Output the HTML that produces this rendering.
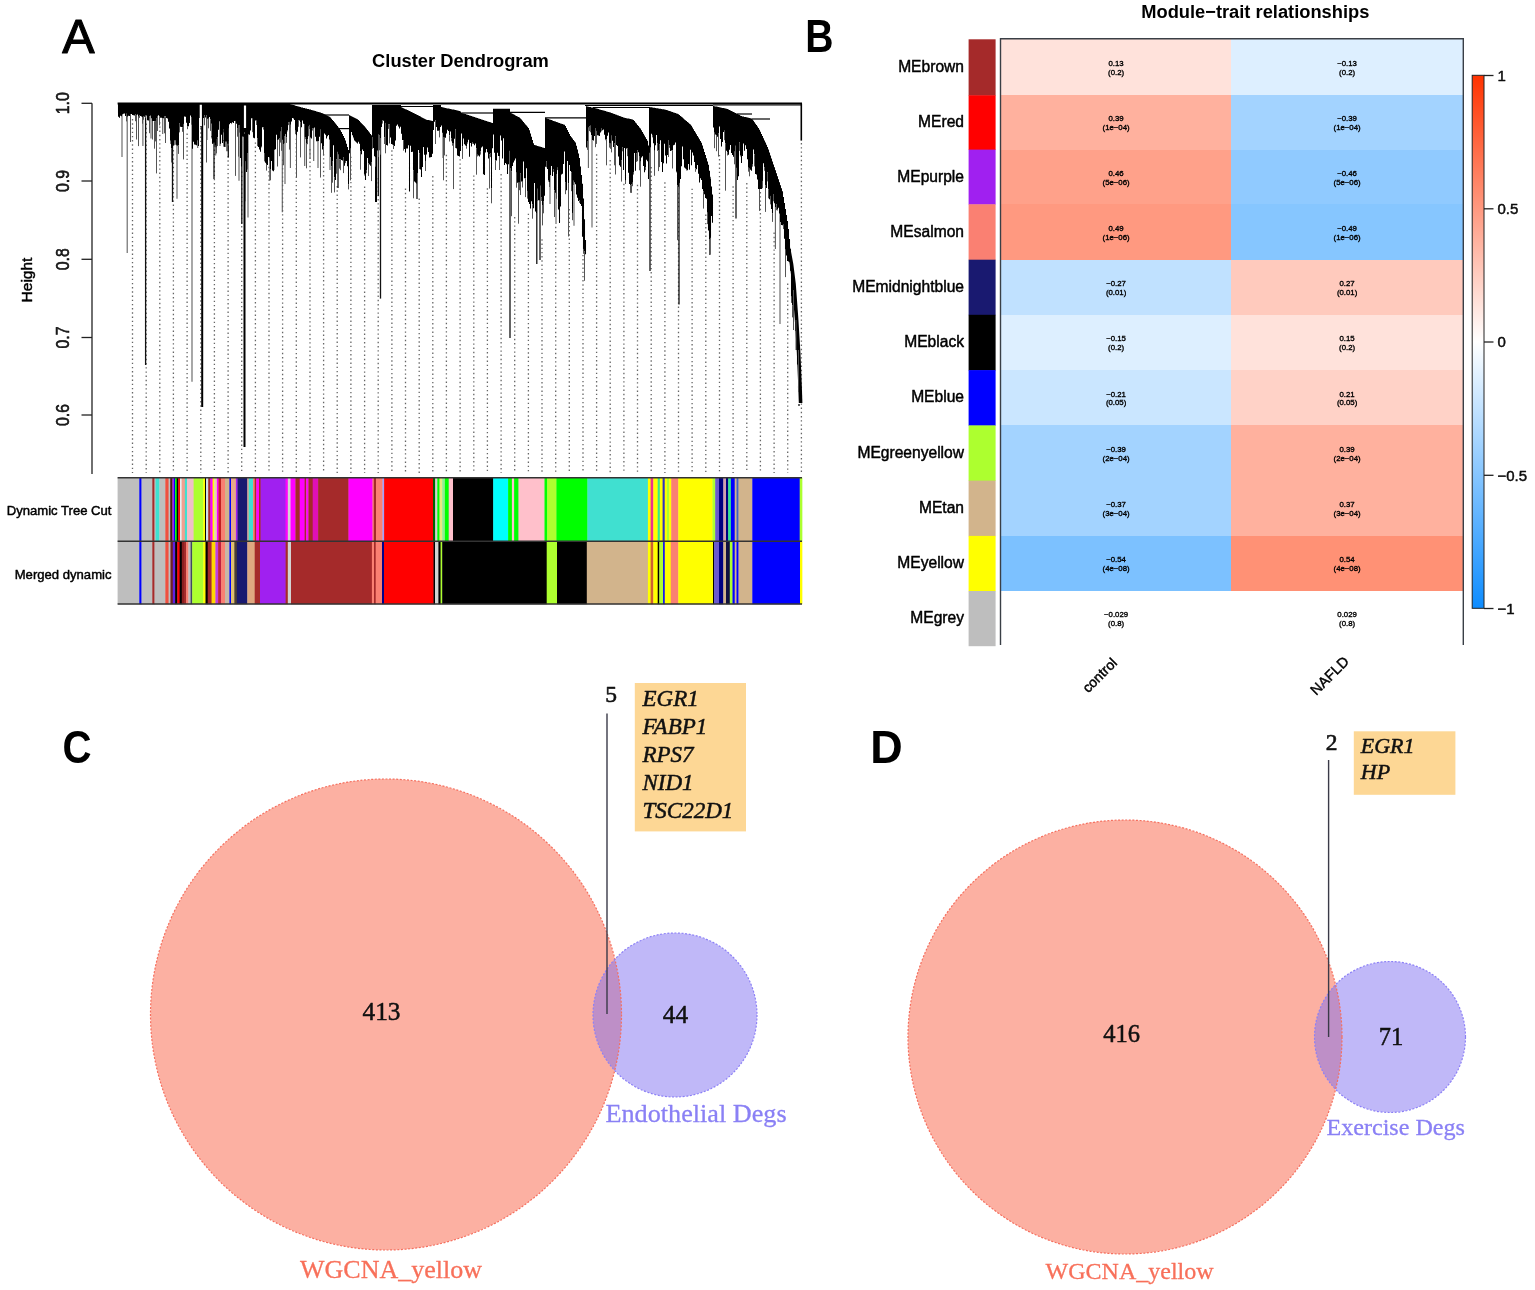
<!DOCTYPE html><html><head><meta charset="utf-8"><title>WGCNA figure</title><style>html,body{margin:0;padding:0;background:#fff;width:1535px;height:1290px;overflow:hidden}</style></head><body><svg width="1535" height="1290" viewBox="0 0 1535 1290" style="position:absolute;left:0;top:0">
<style>text{stroke-linejoin:round}.h{stroke:#000;stroke-width:0.45px}.h2{stroke-width:0.35px}</style>
<rect width="1535" height="1290" fill="#fff"/>
<text x="62.3" y="53.2" font-family="'Liberation Sans', sans-serif" font-size="48.5" fill="#000" stroke="#000" stroke-width="1.1">A</text>
<text transform="translate(805.2 51.6) scale(0.86 1)" font-family="'Liberation Sans', sans-serif" font-weight="700" font-size="45.5" fill="#000">B</text>
<text transform="translate(62.6 763.4) scale(0.86 1)" font-family="'Liberation Sans', sans-serif" font-weight="700" font-size="46.8" fill="#000">C</text>
<text transform="translate(870.3 763.4) scale(0.96 1)" font-family="'Liberation Sans', sans-serif" font-weight="700" font-size="46.8" fill="#000">D</text>
<text x="460.5" y="67" text-anchor="middle" font-family="'Liberation Sans', sans-serif" font-weight="700" font-size="18.3" fill="#000">Cluster Dendrogram</text>
<g stroke="#222" stroke-width="1.3" fill="none">
<line x1="92" y1="103.3" x2="92" y2="474"/>
<line x1="81.5" y1="103.3" x2="92" y2="103.3"/>
<line x1="81.5" y1="181" x2="92" y2="181"/>
<line x1="81.5" y1="259.3" x2="92" y2="259.3"/>
<line x1="81.5" y1="337.5" x2="92" y2="337.5"/>
<line x1="81.5" y1="415" x2="92" y2="415"/>
</g>
<text transform="translate(69.2 103.3) rotate(-90) scale(1.02 1.2)" text-anchor="middle" font-family="'Liberation Sans', sans-serif" font-size="15.5" class="h" fill="#222">1.0</text>
<text transform="translate(69.2 181) rotate(-90) scale(1.02 1.2)" text-anchor="middle" font-family="'Liberation Sans', sans-serif" font-size="15.5" class="h" fill="#222">0.9</text>
<text transform="translate(69.2 259.3) rotate(-90) scale(1.02 1.2)" text-anchor="middle" font-family="'Liberation Sans', sans-serif" font-size="15.5" class="h" fill="#222">0.8</text>
<text transform="translate(69.2 337.5) rotate(-90) scale(1.02 1.2)" text-anchor="middle" font-family="'Liberation Sans', sans-serif" font-size="15.5" class="h" fill="#222">0.7</text>
<text transform="translate(69.2 415) rotate(-90) scale(1.02 1.2)" text-anchor="middle" font-family="'Liberation Sans', sans-serif" font-size="15.5" class="h" fill="#222">0.6</text>
<text transform="translate(31.5 280) rotate(-90)" text-anchor="middle" font-family="'Liberation Sans', sans-serif" font-size="15.5" class="h" fill="#000">Height</text>
<g id="dendro">
<line x1="132.5" y1="119.1" x2="132.5" y2="473" stroke="#666" stroke-width="1.3" stroke-dasharray="1.4 2.8"/>
<line x1="146.2" y1="123.6" x2="146.2" y2="473" stroke="#666" stroke-width="1.3" stroke-dasharray="1.4 2.8"/>
<line x1="159.8" y1="122.2" x2="159.8" y2="473" stroke="#666" stroke-width="1.3" stroke-dasharray="1.4 2.8"/>
<line x1="173.4" y1="150.0" x2="173.4" y2="473" stroke="#666" stroke-width="1.3" stroke-dasharray="1.4 2.8"/>
<line x1="187.1" y1="133.5" x2="187.1" y2="473" stroke="#666" stroke-width="1.3" stroke-dasharray="1.4 2.8"/>
<line x1="200.8" y1="128.1" x2="200.8" y2="473" stroke="#666" stroke-width="1.3" stroke-dasharray="1.4 2.8"/>
<line x1="214.4" y1="145.3" x2="214.4" y2="473" stroke="#666" stroke-width="1.3" stroke-dasharray="1.4 2.8"/>
<line x1="228.1" y1="156.1" x2="228.1" y2="473" stroke="#666" stroke-width="1.3" stroke-dasharray="1.4 2.8"/>
<line x1="241.7" y1="171.5" x2="241.7" y2="473" stroke="#666" stroke-width="1.3" stroke-dasharray="1.4 2.8"/>
<line x1="255.4" y1="142.4" x2="255.4" y2="473" stroke="#666" stroke-width="1.3" stroke-dasharray="1.4 2.8"/>
<line x1="269.0" y1="166.8" x2="269.0" y2="473" stroke="#666" stroke-width="1.3" stroke-dasharray="1.4 2.8"/>
<line x1="282.6" y1="159.6" x2="282.6" y2="473" stroke="#666" stroke-width="1.3" stroke-dasharray="1.4 2.8"/>
<line x1="296.3" y1="138.7" x2="296.3" y2="473" stroke="#666" stroke-width="1.3" stroke-dasharray="1.4 2.8"/>
<line x1="310.0" y1="149.0" x2="310.0" y2="473" stroke="#666" stroke-width="1.3" stroke-dasharray="1.4 2.8"/>
<line x1="323.6" y1="154.0" x2="323.6" y2="473" stroke="#666" stroke-width="1.3" stroke-dasharray="1.4 2.8"/>
<line x1="337.2" y1="186.1" x2="337.2" y2="473" stroke="#666" stroke-width="1.3" stroke-dasharray="1.4 2.8"/>
<line x1="350.9" y1="156.7" x2="350.9" y2="473" stroke="#666" stroke-width="1.3" stroke-dasharray="1.4 2.8"/>
<line x1="364.6" y1="186.6" x2="364.6" y2="473" stroke="#666" stroke-width="1.3" stroke-dasharray="1.4 2.8"/>
<line x1="378.2" y1="178.0" x2="378.2" y2="473" stroke="#666" stroke-width="1.3" stroke-dasharray="1.4 2.8"/>
<line x1="391.9" y1="150.3" x2="391.9" y2="473" stroke="#666" stroke-width="1.3" stroke-dasharray="1.4 2.8"/>
<line x1="405.5" y1="188.6" x2="405.5" y2="473" stroke="#666" stroke-width="1.3" stroke-dasharray="1.4 2.8"/>
<line x1="419.2" y1="198.5" x2="419.2" y2="473" stroke="#666" stroke-width="1.3" stroke-dasharray="1.4 2.8"/>
<line x1="432.8" y1="176.1" x2="432.8" y2="473" stroke="#666" stroke-width="1.3" stroke-dasharray="1.4 2.8"/>
<line x1="446.4" y1="154.8" x2="446.4" y2="473" stroke="#666" stroke-width="1.3" stroke-dasharray="1.4 2.8"/>
<line x1="460.1" y1="159.2" x2="460.1" y2="473" stroke="#666" stroke-width="1.3" stroke-dasharray="1.4 2.8"/>
<line x1="473.8" y1="175.4" x2="473.8" y2="473" stroke="#666" stroke-width="1.3" stroke-dasharray="1.4 2.8"/>
<line x1="487.4" y1="188.3" x2="487.4" y2="473" stroke="#666" stroke-width="1.3" stroke-dasharray="1.4 2.8"/>
<line x1="501.1" y1="174.0" x2="501.1" y2="473" stroke="#666" stroke-width="1.3" stroke-dasharray="1.4 2.8"/>
<line x1="514.7" y1="217.0" x2="514.7" y2="473" stroke="#666" stroke-width="1.3" stroke-dasharray="1.4 2.8"/>
<line x1="528.4" y1="213.7" x2="528.4" y2="473" stroke="#666" stroke-width="1.3" stroke-dasharray="1.4 2.8"/>
<line x1="542.0" y1="239.3" x2="542.0" y2="473" stroke="#666" stroke-width="1.3" stroke-dasharray="1.4 2.8"/>
<line x1="555.7" y1="226.8" x2="555.7" y2="473" stroke="#666" stroke-width="1.3" stroke-dasharray="1.4 2.8"/>
<line x1="569.3" y1="209.1" x2="569.3" y2="473" stroke="#666" stroke-width="1.3" stroke-dasharray="1.4 2.8"/>
<line x1="583.0" y1="254.9" x2="583.0" y2="473" stroke="#666" stroke-width="1.3" stroke-dasharray="1.4 2.8"/>
<line x1="596.6" y1="154.3" x2="596.6" y2="473" stroke="#666" stroke-width="1.3" stroke-dasharray="1.4 2.8"/>
<line x1="610.2" y1="160.0" x2="610.2" y2="473" stroke="#666" stroke-width="1.3" stroke-dasharray="1.4 2.8"/>
<line x1="623.9" y1="183.8" x2="623.9" y2="473" stroke="#666" stroke-width="1.3" stroke-dasharray="1.4 2.8"/>
<line x1="637.5" y1="184.8" x2="637.5" y2="473" stroke="#666" stroke-width="1.3" stroke-dasharray="1.4 2.8"/>
<line x1="651.2" y1="167.1" x2="651.2" y2="473" stroke="#666" stroke-width="1.3" stroke-dasharray="1.4 2.8"/>
<line x1="664.9" y1="182.3" x2="664.9" y2="473" stroke="#666" stroke-width="1.3" stroke-dasharray="1.4 2.8"/>
<line x1="678.5" y1="193.2" x2="678.5" y2="473" stroke="#666" stroke-width="1.3" stroke-dasharray="1.4 2.8"/>
<line x1="692.1" y1="188.7" x2="692.1" y2="473" stroke="#666" stroke-width="1.3" stroke-dasharray="1.4 2.8"/>
<line x1="705.8" y1="214.5" x2="705.8" y2="473" stroke="#666" stroke-width="1.3" stroke-dasharray="1.4 2.8"/>
<line x1="719.5" y1="154.9" x2="719.5" y2="473" stroke="#666" stroke-width="1.3" stroke-dasharray="1.4 2.8"/>
<line x1="733.1" y1="186.3" x2="733.1" y2="473" stroke="#666" stroke-width="1.3" stroke-dasharray="1.4 2.8"/>
<line x1="746.8" y1="183.1" x2="746.8" y2="473" stroke="#666" stroke-width="1.3" stroke-dasharray="1.4 2.8"/>
<line x1="760.4" y1="192.0" x2="760.4" y2="473" stroke="#666" stroke-width="1.3" stroke-dasharray="1.4 2.8"/>
<line x1="774.1" y1="232.6" x2="774.1" y2="473" stroke="#666" stroke-width="1.3" stroke-dasharray="1.4 2.8"/>
<line x1="787.7" y1="283.6" x2="787.7" y2="473" stroke="#666" stroke-width="1.3" stroke-dasharray="1.4 2.8"/>
<line x1="801.4" y1="143.0" x2="801.4" y2="473" stroke="#666" stroke-width="1.3" stroke-dasharray="1.4 2.8"/>
<line x1="122" y1="105.3" x2="122" y2="157" stroke="#606060" stroke-width="1.1"/>
<line x1="127.2" y1="105.3" x2="127.2" y2="253" stroke="#606060" stroke-width="1.1"/>
<line x1="142.9" y1="105.4" x2="142.9" y2="146" stroke="#606060" stroke-width="1.1"/>
<line x1="145.6" y1="105.4" x2="145.6" y2="365" stroke="#111" stroke-width="1.3"/>
<line x1="151" y1="105.4" x2="151" y2="138.5" stroke="#606060" stroke-width="1.1"/>
<line x1="162.7" y1="105.5" x2="162.7" y2="134" stroke="#606060" stroke-width="1.1"/>
<line x1="172.5" y1="105.5" x2="172.5" y2="202" stroke="#111" stroke-width="1.3"/>
<line x1="177" y1="105.5" x2="177" y2="198.7" stroke="#606060" stroke-width="1.1"/>
<line x1="192" y1="105.6" x2="192" y2="381.7" stroke="#606060" stroke-width="1.1"/>
<line x1="197.7" y1="105.6" x2="197.7" y2="148" stroke="#606060" stroke-width="1.1"/>
<line x1="202.2" y1="105.6" x2="202.2" y2="407" stroke="#000" stroke-width="2.0"/>
<line x1="207" y1="105.7" x2="207" y2="140" stroke="#606060" stroke-width="1.1"/>
<line x1="214" y1="105.7" x2="214" y2="179" stroke="#111" stroke-width="1.3"/>
<line x1="215.7" y1="105.7" x2="215.7" y2="155.6" stroke="#606060" stroke-width="1.1"/>
<line x1="220" y1="105.7" x2="220" y2="146" stroke="#606060" stroke-width="1.1"/>
<line x1="228.3" y1="105.7" x2="228.3" y2="157.4" stroke="#111" stroke-width="1.3"/>
<line x1="239" y1="105.8" x2="239" y2="180.7" stroke="#606060" stroke-width="1.1"/>
<line x1="241.8" y1="105.8" x2="241.8" y2="224" stroke="#111" stroke-width="1.3"/>
<line x1="244.5" y1="105.8" x2="244.5" y2="447" stroke="#000" stroke-width="2.0"/>
<line x1="248" y1="105.8" x2="248" y2="217.6" stroke="#606060" stroke-width="1.1"/>
<line x1="269.7" y1="105.9" x2="269.7" y2="180.7" stroke="#606060" stroke-width="1.1"/>
<line x1="274" y1="105.9" x2="274" y2="170" stroke="#606060" stroke-width="1.1"/>
<line x1="282.3" y1="106.0" x2="282.3" y2="212.2" stroke="#606060" stroke-width="1.1"/>
<line x1="285" y1="106.0" x2="285" y2="184" stroke="#606060" stroke-width="1.1"/>
<line x1="290.4" y1="106.1" x2="290.4" y2="168" stroke="#606060" stroke-width="1.1"/>
<line x1="304.7" y1="110.2" x2="304.7" y2="166" stroke="#606060" stroke-width="1.1"/>
<line x1="310" y1="111.5" x2="310" y2="159" stroke="#606060" stroke-width="1.1"/>
<line x1="313.7" y1="112.6" x2="313.7" y2="161" stroke="#606060" stroke-width="1.1"/>
<line x1="318" y1="113.8" x2="318" y2="168" stroke="#606060" stroke-width="1.1"/>
<line x1="330" y1="119.0" x2="330" y2="170" stroke="#606060" stroke-width="1.1"/>
<line x1="338" y1="128.8" x2="338" y2="188" stroke="#111" stroke-width="1.3"/>
<line x1="376" y1="107.0" x2="376" y2="202" stroke="#000" stroke-width="2.0"/>
<line x1="378.3" y1="107.0" x2="378.3" y2="196" stroke="#111" stroke-width="1.3"/>
<line x1="380.5" y1="107.0" x2="380.5" y2="298.6" stroke="#111" stroke-width="1.3"/>
<line x1="417" y1="116.8" x2="417" y2="199" stroke="#111" stroke-width="1.3"/>
<line x1="443" y1="109.4" x2="443" y2="158" stroke="#606060" stroke-width="1.1"/>
<line x1="510" y1="114.4" x2="510" y2="338" stroke="#111" stroke-width="1.3"/>
<line x1="536.8" y1="147.7" x2="536.8" y2="264" stroke="#111" stroke-width="1.3"/>
<line x1="540" y1="148.6" x2="540" y2="260" stroke="#111" stroke-width="1.3"/>
<line x1="550" y1="121.6" x2="550" y2="204" stroke="#606060" stroke-width="1.1"/>
<line x1="556" y1="123.8" x2="556" y2="224" stroke="#606060" stroke-width="1.1"/>
<line x1="574" y1="142.6" x2="574" y2="225.7" stroke="#606060" stroke-width="1.1"/>
<line x1="592" y1="109.5" x2="592" y2="227.5" stroke="#606060" stroke-width="1.1"/>
<line x1="588.4" y1="108.6" x2="588.4" y2="168" stroke="#606060" stroke-width="1.1"/>
<line x1="650" y1="109.1" x2="650" y2="271" stroke="#111" stroke-width="1.3"/>
<line x1="679" y1="116.6" x2="679" y2="304.6" stroke="#111" stroke-width="1.3"/>
<line x1="710" y1="176.7" x2="710" y2="254.7" stroke="#111" stroke-width="1.3"/>
<line x1="736" y1="115.2" x2="736" y2="218.5" stroke="#111" stroke-width="1.3"/>
<line x1="775.4" y1="172.0" x2="775.4" y2="249" stroke="#606060" stroke-width="1.1"/>
<line x1="780" y1="185.7" x2="780" y2="324" stroke="#606060" stroke-width="1.1"/>
<line x1="799" y1="406.0" x2="799" y2="404" stroke="#111" stroke-width="1.3"/>
<path d="M118.5 103.3V116.8M119.5 103.3V117.8M120.5 103.3V115.7M121.5 103.3V116.2M122.5 103.3V114.3M123.5 103.3V113.8M124.5 103.3V113.5M125.5 103.3V116.0M126.5 103.3V113.8M127.5 103.3V116.4M128.5 103.3V115.7M129.5 103.3V115.9M130.5 103.4V114.4M131.5 103.4V114.0M132.5 103.4V115.1M133.5 103.4V115.2M134.5 103.4V115.5M135.5 103.4V114.4M136.5 103.4V114.9M137.5 103.4V114.5M138.5 103.4V116.7M139.5 103.4V115.4M140.5 103.4V116.1M141.5 103.4V116.4M142.5 103.4V117.6M143.5 103.4V116.4M144.5 103.4V116.7M145.5 103.4V115.1M146.5 103.4V115.6M147.5 103.4V120.2M148.5 103.4V120.5M149.5 103.4V116.5M150.5 103.4V115.4M151.5 103.4V118.2M152.5 103.4V121.0M153.5 103.4V121.1M154.5 103.4V121.3M155.5 103.5V120.9M156.5 103.5V118.4M157.5 103.5V115.9M158.5 103.5V115.2M159.5 103.5V116.4M160.5 103.5V117.7M161.5 103.5V117.8M162.5 103.5V118.0M163.5 103.5V118.2M164.5 103.5V116.1M165.5 103.5V116.3M166.5 103.5V117.9M167.5 103.5V118.4M168.5 103.5V121.8M169.5 103.5V128.6M170.5 103.5V140.4M171.5 103.5V148.1M172.5 103.5V148.1M173.5 103.5V122.1M174.5 103.5V129.3M175.5 103.5V125.5M176.5 103.5V125.2M177.5 103.5V145.5M178.5 103.5V145.5M179.5 103.6V123.1M180.5 103.6V126.8M181.5 103.6V127.0M182.5 103.6V127.3M183.5 103.6V123.9M184.5 103.6V116.4M185.5 103.6V116.8M186.5 103.6V122.7M187.5 103.6V126.2M188.5 103.6V126.3M189.5 103.6V122.9M190.5 103.6V115.4M191.5 103.6V117.4M192.5 103.6V126.1M193.5 103.6V134.9M194.5 103.6V125.0M195.5 103.6V122.5M196.5 103.6V125.4M197.5 103.6V128.5M198.5 103.6V132.9M199.5 103.6V118.0M200.5 103.6V115.3M201.5 103.6V115.5M202.5 103.6V116.8M203.5 103.6V117.9M204.5 103.7V115.5M205.5 103.7V117.4M206.5 103.7V115.3M207.5 103.7V118.7M208.5 103.7V118.8M209.5 103.7V117.0M210.5 103.7V119.1M211.5 103.7V123.5M212.5 103.7V143.8M213.5 103.7V123.3M214.5 103.7V122.8M215.5 103.7V134.1M216.5 103.7V139.0M217.5 103.7V137.3M218.5 103.7V129.8M219.5 103.7V121.2M220.5 103.7V125.3M221.5 103.7V126.3M222.5 103.7V127.3M223.5 103.7V129.3M224.5 103.7V127.9M225.5 103.7V127.0M226.5 103.7V126.7M227.5 103.7V139.8M228.5 103.8V128.3M229.5 103.8V124.3M230.5 103.8V123.1M231.5 103.8V123.3M232.5 103.8V122.2M233.5 103.8V123.1M234.5 103.8V120.9M235.5 103.8V120.9M236.5 103.8V123.8M237.5 103.8V128.4M238.5 103.8V125.6M239.5 103.8V124.9M240.5 103.8V158.1M241.5 103.8V166.6M242.5 103.8V136.4M243.5 103.8V136.8M244.5 103.8V132.2M245.5 103.8V161.4M246.5 103.8V171.9M247.5 103.8V153.1M248.5 103.8V134.3M249.5 103.8V134.8M250.5 103.8V130.6M251.5 103.8V118.3M252.5 103.8V118.7M253.5 103.9V137.8M254.5 103.9V138.3M255.5 103.9V120.6M256.5 103.9V120.7M257.5 103.9V138.4M258.5 103.9V146.9M259.5 103.9V149.4M260.5 103.9V151.8M261.5 103.9V146.7M262.5 103.9V127.2M263.5 103.9V127.2M264.5 103.9V153.0M265.5 103.9V162.8M266.5 103.9V163.9M267.5 103.9V164.9M268.5 103.9V157.1M269.5 103.9V157.7M270.5 103.9V169.0M271.5 103.9V160.9M272.5 103.9V170.6M273.5 103.9V171.2M274.5 103.9V149.8M275.5 103.9V149.3M276.5 103.9V134.8M277.5 103.9V139.9M278.5 104.0V139.5M279.5 104.0V138.2M280.5 104.0V131.8M281.5 104.0V127.6M282.5 104.0V139.8M283.5 104.0V144.0M284.5 104.0V136.2M285.5 104.0V133.9M286.5 104.0V137.1M287.5 104.0V130.3M288.5 104.0V122.1M289.5 104.0V121.9M290.5 104.2V124.7M291.5 104.5V121.4M292.5 104.8V118.1M293.5 105.0V118.5M294.5 105.3V120.0M295.5 105.7V130.7M296.5 106.0V135.7M297.5 106.2V131.8M298.5 106.5V120.1M299.5 106.8V120.5M300.5 107.1V122.5M301.5 107.4V127.3M302.5 107.6V120.5M303.5 107.9V123.7M304.5 108.1V124.1M305.5 108.4V137.5M306.5 108.6V143.7M307.5 108.9V139.4M308.5 109.1V126.8M309.5 109.4V124.9M310.5 109.6V137.6M311.5 109.9V138.4M312.5 110.2V128.4M313.5 110.5V128.2M314.5 110.8V127.4M315.5 111.1V136.8M316.5 111.4V141.3M317.5 111.7V141.2M318.5 112.0V141.1M319.5 112.3V136.7M320.5 112.6V129.7M321.5 112.9V143.2M322.5 113.2V149.6M323.5 113.8V146.2M324.5 114.2V133.6M325.5 114.8V134.8M326.5 115.2V138.5M327.5 115.8V136.3M328.5 116.2V134.9M329.5 116.8V139.5M330.5 117.6V156.9M331.5 118.8V166.2M332.5 119.9V161.4M333.5 121.1V145.3M334.5 122.2V177.3M335.5 123.4V179.9M336.5 124.7V159.1M337.5 126.1V151.8M338.5 127.5V154.3M339.5 128.9V159.3M340.5 130.3V159.6M341.5 132.0V160.1M342.5 134.0V160.6M343.5 136.0V157.4M344.5 138.0V165.8M345.5 140.6V160.9M346.5 143.7V161.1M347.5 146.9V166.3M348.5 150.0V184.5M349.5 115.3V153.2M350.5 115.8V148.8M351.5 116.3V132.0M352.5 116.8V135.2M353.5 117.3V137.1M354.5 117.8V140.5M355.5 118.3V141.6M356.5 118.8V142.6M357.5 119.3V143.6M358.5 120.1V141.8M359.5 121.1V143.8M360.5 122.2V151.2M361.5 123.2V154.3M362.5 124.2V149.5M363.5 125.3V151.1M364.5 126.3V173.9M365.5 127.4V180.1M366.5 128.7V170.6M367.5 130.0V158.0M368.5 131.3V163.1M369.5 132.6V164.4M370.5 133.9V165.8M371.5 135.2V162.4M372.5 105.0V137.0M373.5 105.0V148.0M374.5 105.0V156.3M375.5 105.0V157.1M376.5 105.0V157.9M377.5 105.0V150.6M378.5 105.0V134.2M379.5 105.0V135.5M380.5 105.0V138.0M381.5 105.0V126.9M382.5 105.0V120.1M383.5 105.0V120.7M384.5 105.0V137.3M385.5 105.0V122.9M386.5 105.0V144.9M387.5 105.0V145.6M388.5 105.0V124.5M389.5 105.0V124.1M390.5 105.0V137.5M391.5 105.0V143.9M392.5 105.0V144.6M393.5 105.0V145.3M394.5 105.0V146.0M395.5 105.0V140.4M396.5 105.0V125.8M397.5 105.0V124.4M398.5 105.0V126.5M399.5 105.0V128.5M400.5 105.0V126.7M401.5 107.2V133.7M402.5 107.7V139.9M403.5 108.2V140.5M404.5 108.7V149.1M405.5 109.2V152.5M406.5 109.6V148.5M407.5 110.1V148.5M408.5 110.6V145.3M409.5 111.1V191.5M410.5 111.6V145.8M411.5 112.0V152.1M412.5 112.5V151.7M413.5 113.0V170.2M414.5 113.5V181.4M415.5 114.0V182.5M416.5 114.5V183.6M417.5 115.0V173.1M418.5 115.6V150.1M419.5 116.1V153.3M420.5 116.6V169.4M421.5 117.2V177.1M422.5 117.7V166.9M423.5 118.3V147.0M424.5 118.8V154.7M425.5 119.3V160.9M426.5 119.7V154.6M427.5 119.9V147.4M428.5 120.1V152.0M429.5 120.3V157.4M430.5 120.5V157.2M431.5 120.7V157.1M432.5 120.9V153.8M433.5 105.0V130.0M434.5 105.0V121.8M435.5 105.0V120.6M436.5 105.0V126.9M437.5 105.0V130.8M438.5 105.0V130.8M439.5 105.0V130.8M440.5 105.0V126.9M441.5 107.1V125.6M442.5 107.3V132.8M443.5 107.5V137.5M444.5 107.7V137.7M445.5 107.9V137.8M446.5 108.2V133.5M447.5 108.4V129.8M448.5 108.6V131.1M449.5 108.8V135.3M450.5 109.0V131.5M451.5 109.2V138.2M452.5 109.4V143.5M453.5 109.6V143.7M454.5 109.8V138.7M455.5 110.1V129.5M456.5 110.3V148.1M457.5 110.5V155.4M458.5 110.7V156.0M459.5 110.9V156.6M460.5 111.5V150.9M461.5 112.5V133.4M462.5 113.2V146.5M463.5 113.5V138.6M464.5 113.8V144.3M465.5 114.1V145.5M466.5 114.5V146.4M467.5 114.8V142.2M468.5 115.1V139.8M469.5 115.4V156.8M470.5 115.8V143.0M471.5 116.1V146.6M472.5 116.4V142.6M473.5 116.8V143.7M474.5 117.1V145.2M475.5 117.4V143.5M476.5 117.7V148.6M477.5 118.1V154.8M478.5 118.4V155.6M479.5 118.7V156.4M480.5 119.1V151.4M481.5 119.4V147.6M482.5 119.7V146.6M483.5 120.0V174.2M484.5 120.4V175.1M485.5 120.7V152.5M486.5 121.0V149.1M487.5 121.4V152.3M488.5 121.7V158.4M489.5 122.0V154.6M490.5 122.3V153.5M491.5 122.7V188.5M492.5 123.0V148.2M493.5 108.8V134.6M494.5 108.8V152.7M495.5 108.8V160.5M496.5 108.8V160.5M497.5 108.8V152.7M498.5 108.8V156.0M499.5 108.8V156.0M500.5 108.8V135.4M501.5 108.8V140.6M502.5 108.8V158.5M503.5 108.8V138.2M504.5 108.8V165.1M505.5 108.8V162.9M506.5 108.8V164.3M507.5 108.8V174.1M508.5 108.8V164.3M509.5 108.8V150.7M510.5 112.7V167.9M511.5 113.2V171.6M512.5 113.8V166.1M513.5 114.3V162.6M514.5 114.8V160.6M515.5 115.4V158.5M516.5 115.9V172.7M517.5 116.5V182.8M518.5 117.0V182.8M519.5 117.5V182.8M520.5 118.4V173.2M521.5 119.6V181.5M522.5 120.8V181.7M523.5 122.0V161.6M524.5 123.2V178.2M525.5 124.4V178.5M526.5 125.6V168.3M527.5 126.8V190.9M528.5 128.0V202.1M529.5 130.2V204.1M530.5 133.5V208.4M531.5 136.7V201.3M532.5 139.9V204.2M533.5 143.2V208.3M534.5 145.0V182.9M535.5 145.3V211.4M536.5 145.6V213.1M537.5 145.9V188.8M538.5 146.2V200.2M539.5 146.5V200.3M540.5 146.8V185.5M541.5 147.1V197.5M542.5 147.4V205.0M543.5 147.7V201.4M544.5 148.0V195.8M545.5 118.0V166.7M546.5 118.3V161.1M547.5 118.7V169.1M548.5 119.1V180.2M549.5 119.4V182.4M550.5 119.8V175.0M551.5 120.1V165.9M552.5 120.5V176.1M553.5 120.9V169.6M554.5 121.2V190.3M555.5 121.6V192.7M556.5 121.9V174.0M557.5 122.3V167.7M558.5 122.7V209.4M559.5 123.0V223.0M560.5 123.4V206.6M561.5 123.7V174.5M562.5 124.1V173.8M563.5 124.5V164.0M564.5 124.8V151.5M565.5 126.0V182.4M566.5 128.0V190.3M567.5 130.0V161.1M568.5 132.0V183.1M569.5 134.0V165.0M570.5 135.9V170.9M571.5 137.3V172.5M572.5 138.6V212.9M573.5 139.9V180.7M574.5 141.3V182.2M575.5 142.6V184.3M576.5 145.7V194.6M577.5 149.6V197.8M578.5 153.5V201.1M579.5 157.9V200.3M580.5 166.5V204.1M581.5 175.1V206.1M582.5 183.7V236.7M583.5 198.4V248.9M584.5 219.2V251.6M585.5 240.0V254.2M586.5 106.2V147.4M587.5 106.4V141.0M588.5 106.7V127.2M589.5 106.9V126.4M590.5 107.1V125.8M591.5 107.4V135.0M592.5 107.6V140.0M593.5 107.9V140.4M594.5 108.1V135.9M595.5 108.3V128.0M596.5 108.6V130.9M597.5 108.8V135.2M598.5 109.1V135.6M599.5 109.4V136.0M600.5 109.7V132.4M601.5 110.0V128.0M602.5 110.3V130.3M603.5 110.5V129.5M604.5 110.8V134.7M605.5 111.1V139.2M606.5 111.4V139.6M607.5 111.7V135.7M608.5 112.0V132.4M609.5 112.3V142.9M610.5 112.6V143.7M611.5 113.0V135.8M612.5 113.3V140.7M613.5 113.7V146.9M614.5 114.1V143.1M615.5 114.5V136.3M616.5 114.8V145.0M617.5 115.2V146.1M618.5 115.6V156.4M619.5 116.0V165.2M620.5 116.3V166.7M621.5 116.7V160.6M622.5 117.1V147.3M623.5 117.5V170.1M624.5 117.8V148.0M625.5 118.0V180.7M626.5 118.2V148.6M627.5 118.4V148.2M628.5 118.6V172.7M629.5 118.8V183.9M630.5 119.0V185.5M631.5 119.2V184.3M632.5 119.4V182.7M633.5 119.9V172.0M634.5 121.1V153.0M635.5 122.4V170.8M636.5 123.6V153.4M637.5 124.9V150.5M638.5 126.1V152.2M639.5 127.4V156.0M640.5 128.6V161.7M641.5 130.3V157.6M642.5 132.0V156.3M643.5 133.8V166.1M644.5 135.5V172.3M645.5 137.2V167.4M646.5 138.9V159.8M647.5 140.7V161.3M648.5 145.5V179.1M649.5 107.0V152.8M650.5 107.2V147.3M651.5 107.3V133.7M652.5 107.5V134.9M653.5 107.7V143.2M654.5 107.8V150.8M655.5 108.0V145.2M656.5 108.2V134.9M657.5 108.3V143.4M658.5 108.5V150.2M659.5 108.7V144.5M660.5 108.8V140.2M661.5 109.0V161.9M662.5 109.2V172.0M663.5 109.3V163.3M664.5 109.5V143.7M665.5 109.7V155.5M666.5 110.0V163.4M667.5 110.3V155.0M668.5 110.7V140.0M669.5 111.0V145.3M670.5 111.3V151.0M671.5 111.7V150.6M672.5 112.0V150.3M673.5 112.4V145.3M674.5 112.7V144.7M675.5 113.0V142.6M676.5 113.4V171.8M677.5 113.7V185.1M678.5 114.2V186.8M679.5 115.0V182.9M680.5 115.9V179.0M681.5 116.8V166.3M682.5 117.6V146.6M683.5 118.5V159.2M684.5 119.4V167.4M685.5 120.2V168.4M686.5 121.1V169.4M687.5 122.0V170.3M688.5 122.8V164.0M689.5 123.7V169.0M690.5 124.6V149.8M691.5 125.8V165.3M692.5 127.5V152.5M693.5 129.2V155.6M694.5 130.9V161.9M695.5 132.6V168.3M696.5 134.3V169.3M697.5 135.9V165.1M698.5 137.6V173.7M699.5 139.3V182.4M700.5 141.0V178.2M701.5 142.7V179.9M702.5 145.6V189.0M703.5 148.7V191.6M704.5 151.9V194.2M705.5 155.1V197.9M706.5 158.3V198.7M707.5 161.5V212.7M708.5 164.7V230.4M709.5 170.7V239.2M710.5 178.7V237.7M711.5 186.6V215.9M712.5 194.5V222.8M713.5 106.0V127.5M714.5 106.2V132.7M715.5 106.4V134.0M716.5 106.6V135.4M717.5 106.8V136.7M718.5 107.0V133.5M719.5 107.3V126.4M720.5 107.5V139.1M721.5 107.7V146.4M722.5 107.9V142.0M723.5 108.1V132.0M724.5 108.3V130.7M725.5 108.5V143.1M726.5 108.7V150.8M727.5 109.0V152.6M728.5 109.5V154.7M729.5 110.0V149.8M730.5 110.5V145.1M731.5 111.0V153.0M732.5 111.5V154.9M733.5 112.0V156.7M734.5 112.4V151.7M735.5 112.9V145.5M736.5 113.4V167.8M737.5 113.9V180.0M738.5 114.5V176.3M739.5 115.1V142.5M740.5 115.7V155.5M741.5 116.1V162.9M742.5 116.4V156.1M743.5 116.6V143.4M744.5 116.9V150.8M745.5 117.1V145.3M746.5 117.3V148.9M747.5 117.6V159.3M748.5 117.8V167.7M749.5 118.1V168.7M750.5 118.3V169.7M751.5 118.6V170.7M752.5 119.4V164.0M753.5 120.8V149.4M754.5 122.2V154.3M755.5 123.7V174.1M756.5 125.1V174.4M757.5 126.5V179.6M758.5 127.9V189.0M759.5 129.7V189.0M760.5 131.8V188.9M761.5 134.0V188.9M762.5 136.1V180.9M763.5 138.3V163.2M764.5 140.5V167.1M765.5 142.6V185.2M766.5 144.8V188.1M767.5 146.9V172.6M768.5 149.5V189.2M769.5 152.5V199.2M770.5 155.4V195.9M771.5 158.4V208.9M772.5 161.4V213.4M773.5 164.4V194.0M774.5 167.3V203.2M775.5 170.3V207.0M776.5 173.3V204.6M777.5 176.3V209.4M778.5 179.3V207.7M779.5 182.2V213.4M780.5 185.2V221.9M781.5 188.2V224.9M782.5 191.2V225.2M783.5 196.9V224.7M784.5 202.9V238.7M785.5 209.0V249.8M786.5 215.0V255.4M787.5 221.0V261.0M788.5 229.0V261.4M789.5 239.0V262.0M790.5 249.0V270.8M791.5 259.0V296.7M792.5 269.0V305.5M793.5 279.4V299.4M794.5 293.9V310.3M795.5 308.3V331.0M796.5 322.8V349.9M797.5 348.5V364.4M798.5 385.5V388.5" stroke="#000" stroke-width="1.05" fill="none"/>
<path d="M126.5 113.8V121.4M130.5 114.4V142.0M135.5 114.4V121.2M136.5 114.9V139.5M138.5 116.7V146.1M139.5 115.4V117.9M142.5 117.6V123.7M143.5 116.4V119.8M145.5 115.1V118.1M149.5 116.5V133.2M152.5 121.0V139.5M154.5 121.3V148.7M155.5 120.9V141.4M156.5 118.4V173.4M157.5 115.9V131.0M159.5 116.4V125.4M164.5 116.1V133.3M165.5 116.3V143.0M168.5 121.8V121.9M171.5 148.1V162.5M177.5 145.5V146.1M178.5 145.5V153.9M179.5 123.1V132.4M182.5 127.3V131.8M183.5 123.9V159.4M187.5 126.2V129.2M191.5 117.4V124.7M192.5 126.1V143.4M198.5 132.9V142.3M200.5 115.3V127.5M204.5 115.5V125.3M206.5 115.3V162.5M208.5 118.8V128.3M210.5 119.1V130.9M211.5 123.5V123.6M216.5 139.0V153.4M217.5 137.3V146.1M222.5 127.3V134.5M223.5 129.3V132.4M224.5 127.9V132.5M226.5 126.7V127.0M227.5 139.8V142.4M228.5 128.3V145.5M231.5 123.3V124.1M235.5 120.9V175.9M237.5 128.4V136.7M238.5 125.6V156.6M239.5 124.9V132.6M244.5 132.2V133.9M245.5 161.4V201.3M247.5 153.1V169.5M252.5 118.7V132.2M256.5 120.7V125.0M257.5 138.4V146.1M261.5 146.7V147.4M263.5 127.2V129.6M264.5 153.0V161.4M266.5 163.9V170.6M269.5 157.7V160.6M270.5 169.0V180.2M277.5 139.9V166.5M279.5 138.2V156.2M280.5 131.8V142.6M281.5 127.6V150.8M283.5 144.0V165.2M284.5 136.2V143.2M285.5 133.9V134.1M286.5 137.1V142.9M287.5 130.3V131.4M288.5 122.1V125.1M289.5 121.9V149.6M290.5 124.7V127.6M295.5 130.7V134.2M296.5 135.7V177.2M298.5 120.1V126.8M300.5 122.5V157.4M304.5 124.1V136.8M305.5 137.5V139.1M306.5 143.7V168.3M307.5 139.4V144.2M308.5 126.8V136.2M309.5 124.9V129.0M312.5 128.4V130.6M320.5 129.7V177.5M323.5 146.2V155.5M331.5 166.2V192.8M332.5 161.4V182.7M334.5 177.3V192.4M336.5 159.1V173.7M339.5 159.3V168.6M340.5 159.6V170.2M343.5 157.4V173.1M345.5 160.9V163.1M348.5 184.5V189.4M350.5 148.8V180.4M353.5 137.1V138.3M360.5 151.2V169.7M364.5 173.9V175.6M366.5 170.6V173.2M368.5 163.1V176.0M371.5 162.4V181.1M372.5 137.0V148.8M375.5 157.1V166.7M377.5 150.6V151.0M378.5 134.2V157.1M379.5 135.5V150.3M380.5 138.0V154.7M382.5 120.1V123.6M384.5 137.3V144.0M385.5 122.9V153.3M388.5 124.5V128.9M389.5 124.1V143.4M393.5 145.3V149.0M403.5 140.5V150.6M413.5 170.2V198.3M419.5 153.3V169.1M425.5 160.9V171.0M435.5 120.6V144.0M439.5 130.8V137.4M443.5 137.5V180.3M444.5 137.7V155.4M449.5 135.3V141.5M451.5 138.2V141.3M452.5 143.5V145.7M453.5 143.7V189.1M455.5 129.5V148.0M456.5 148.1V148.7M462.5 146.5V158.9M466.5 146.4V148.7M467.5 142.2V143.6M472.5 142.6V143.7M476.5 148.6V174.7M477.5 154.8V156.4M480.5 151.4V154.6M489.5 154.6V188.6M490.5 153.5V157.1M491.5 188.5V203.3M495.5 160.5V170.0M499.5 156.0V170.0M511.5 171.6V216.2M516.5 172.7V187.7M518.5 182.8V223.7M519.5 182.8V190.2M520.5 173.2V195.0M522.5 181.7V187.5M525.5 178.5V197.1M527.5 190.9V198.7M530.5 208.4V208.5M532.5 204.2V218.7M537.5 188.8V201.0M541.5 197.5V201.0M542.5 205.0V225.4M543.5 201.4V213.3M546.5 161.1V167.3M548.5 180.2V181.6M549.5 182.4V187.0M553.5 169.6V171.9M554.5 190.3V217.0M556.5 174.0V198.8M557.5 167.7V170.1M565.5 182.4V194.2M568.5 183.1V236.5M571.5 172.5V191.2M572.5 212.9V220.2M573.5 180.7V185.0M579.5 200.3V202.9M583.5 248.9V253.8M584.5 251.6V280.8M587.5 141.0V149.9M589.5 126.4V131.1M590.5 125.8V132.3M593.5 140.4V140.6M595.5 128.0V147.2M596.5 130.9V143.9M601.5 128.0V131.3M605.5 139.2V140.2M606.5 139.6V165.3M609.5 142.9V147.6M610.5 143.7V148.8M611.5 135.8V152.4M614.5 143.1V165.3M615.5 136.3V174.5M621.5 160.6V181.6M622.5 147.3V151.3M625.5 180.7V184.0M627.5 148.2V156.2M630.5 185.5V192.8M631.5 184.3V192.9M632.5 182.7V186.2M633.5 172.0V174.6M636.5 153.4V161.9M637.5 150.5V161.2M639.5 156.0V170.3M640.5 161.7V186.7M645.5 167.4V170.2M652.5 134.9V137.4M654.5 150.8V175.8M657.5 143.4V150.9M658.5 150.2V171.1M659.5 144.5V167.1M668.5 140.0V157.0M669.5 145.3V147.8M672.5 150.3V168.5M676.5 171.8V172.4M677.5 185.1V240.1M679.5 182.9V188.7M684.5 167.4V167.6M686.5 169.4V170.5M689.5 169.0V170.0M695.5 168.3V171.8M703.5 191.6V208.6M707.5 212.7V224.1M709.5 239.2V255.0M714.5 132.7V148.2M715.5 134.0V134.8M716.5 135.4V151.2M718.5 133.5V156.6M724.5 130.7V140.2M725.5 143.1V190.7M727.5 152.6V155.5M734.5 151.7V164.3M739.5 142.5V150.9M740.5 155.5V156.4M748.5 167.7V171.7M749.5 168.7V176.3M752.5 164.0V166.7M754.5 154.3V166.4M759.5 189.0V210.9M762.5 180.9V188.2M764.5 167.1V170.8M765.5 185.2V211.9M767.5 172.6V181.4M768.5 189.2V198.3M770.5 195.9V204.4M772.5 213.4V221.9M773.5 194.0V201.3M776.5 204.6V210.2M777.5 209.4V210.5M783.5 224.7V229.1M785.5 249.8V277.1M791.5 296.7V302.9M792.5 305.5V317.4M793.5 299.4V311.2" stroke="#555" stroke-width="1" fill="none"/>
<path d="M788.5 248 L791.5 264 L794 284 L796.5 318 L798.6 352 L800 385 L800.6 403" stroke="#000" stroke-width="3.6" fill="none"/>
<path d="M793.5 290 V330 M796 320 V350 M798.5 350 V392" stroke="#555" stroke-width="1" fill="none"/>
<rect x="170.5" y="103.5" width="8.5" height="33.5" fill="#000"/>
<path d="M171.0 136.0V144.1M172.0 136.0V143.8M173.0 136.0V145.9M174.0 136.0V145.3M175.0 136.0V140.3M176.0 136.0V144.8M177.0 136.0V145.5M178.0 136.0V142.5" stroke="#000" stroke-width="1.05" fill="none"/>
<rect x="192" y="103.5" width="7" height="34.5" fill="#000"/>
<path d="M192.5 137.0V148.8M193.5 137.0V141.8M194.5 137.0V144.6M195.5 137.0V144.8M196.5 137.0V145.2M197.5 137.0V140.2M198.5 137.0V146.0" stroke="#000" stroke-width="1.05" fill="none"/>
<rect x="211.5" y="103.5" width="5.5" height="33.5" fill="#000"/>
<path d="M212.0 136.0V138.4M213.0 136.0V143.4M214.0 136.0V142.4M215.0 136.0V145.3M216.0 136.0V147.3" stroke="#000" stroke-width="1.05" fill="none"/>
<rect x="220" y="103.5" width="3" height="28.5" fill="#000"/>
<path d="M220.5 131.0V143.8M221.5 131.0V134.8M222.5 131.0V142.9" stroke="#000" stroke-width="1.05" fill="none"/>
<rect x="223.5" y="103.5" width="5.0" height="37.5" fill="#000"/>
<path d="M224.0 140.0V146.7M225.0 140.0V147.1M226.0 140.0V141.5M227.0 140.0V151.3M228.0 140.0V143.7" stroke="#000" stroke-width="1.05" fill="none"/>
<path d="M200.8 104.6 V126 M245 105.5 V128" stroke="#fff" stroke-width="2.2" fill="none"/>
<path d="M117.6 103.6H802" stroke="#000" stroke-width="2"/>
<path d="M801.3 103.6V140.6" stroke="#000" stroke-width="1.6"/>
<path d="M322 115H349" stroke="#000" stroke-width="1.2"/>
<path d="M336 128.6H349" stroke="#000" stroke-width="1.2"/>
<path d="M585 105.5H713" stroke="#000" stroke-width="1.2"/>
<path d="M593 107.5H649" stroke="#000" stroke-width="1.2"/>
<path d="M713 105H801" stroke="#000" stroke-width="1.2"/>
<path d="M737 114H752" stroke="#000" stroke-width="1.2"/>
<path d="M752 119H770" stroke="#000" stroke-width="1.2"/>
<path d="M545 117.8H586" stroke="#000" stroke-width="1.2"/>
<path d="M462 113H493" stroke="#000" stroke-width="1.2"/>
<path d="M401 106.5H441" stroke="#000" stroke-width="1.2"/>
<path d="M510 112.4H545" stroke="#000" stroke-width="1.2"/>
</g>
<rect x="117.6" y="477.6" width="22.05" height="63.60000000000002" fill="#BEBEBE"/>
<rect x="139.3" y="477.6" width="2.55" height="63.60000000000002" fill="#0000FF"/>
<rect x="141.5" y="477.6" width="11.15" height="63.60000000000002" fill="#BEBEBE"/>
<rect x="152.3" y="477.6" width="2.55" height="63.60000000000002" fill="#A52A2A"/>
<rect x="154.5" y="477.6" width="1.45" height="63.60000000000002" fill="#BEBEBE"/>
<rect x="155.6" y="477.6" width="4.15" height="63.60000000000002" fill="#40E0D0"/>
<rect x="159.4" y="477.6" width="6.25" height="63.60000000000002" fill="#BEBEBE"/>
<rect x="165.3" y="477.6" width="3.65" height="63.60000000000002" fill="#EE5040"/>
<rect x="168.6" y="477.6" width="1.95" height="63.60000000000002" fill="#BEBEBE"/>
<rect x="170.2" y="477.6" width="2.55" height="63.60000000000002" fill="#4B1A10"/>
<rect x="172.4" y="477.6" width="1.95" height="63.60000000000002" fill="#A020F0"/>
<rect x="174" y="477.6" width="1.45" height="63.60000000000002" fill="#0000FF"/>
<rect x="175.1" y="477.6" width="1.95" height="63.60000000000002" fill="#00FF00"/>
<rect x="176.7" y="477.6" width="1.95" height="63.60000000000002" fill="#000000"/>
<rect x="178.3" y="477.6" width="2.05" height="63.60000000000002" fill="#FF0000"/>
<rect x="180" y="477.6" width="1.95" height="63.60000000000002" fill="#E8EEF0"/>
<rect x="181.6" y="477.6" width="3.65" height="63.60000000000002" fill="#F0A090"/>
<rect x="184.9" y="477.6" width="2.45" height="63.60000000000002" fill="#40E0D0"/>
<rect x="187" y="477.6" width="6.95" height="63.60000000000002" fill="#F0C0C8"/>
<rect x="193.6" y="477.6" width="10.05" height="63.60000000000002" fill="#ADFF2F"/>
<rect x="203.3" y="477.6" width="2.05" height="63.60000000000002" fill="#FFFF00"/>
<rect x="205" y="477.6" width="1.35" height="63.60000000000002" fill="#000000"/>
<rect x="206" y="477.6" width="2.55" height="63.60000000000002" fill="#D0E0E8"/>
<rect x="208.2" y="477.6" width="2.55" height="63.60000000000002" fill="#A52A2A"/>
<rect x="210.4" y="477.6" width="2.55" height="63.60000000000002" fill="#FF00FF"/>
<rect x="212.6" y="477.6" width="1.95" height="63.60000000000002" fill="#FFFF00"/>
<rect x="214.2" y="477.6" width="3.05" height="63.60000000000002" fill="#E8D0B0"/>
<rect x="216.9" y="477.6" width="1.95" height="63.60000000000002" fill="#FF00FF"/>
<rect x="218.5" y="477.6" width="3.05" height="63.60000000000002" fill="#C02020"/>
<rect x="221.2" y="477.6" width="4.15" height="63.60000000000002" fill="#FA8072"/>
<rect x="225" y="477.6" width="4.75" height="63.60000000000002" fill="#D2B48C"/>
<rect x="229.4" y="477.6" width="1.95" height="63.60000000000002" fill="#0000FF"/>
<rect x="231" y="477.6" width="5.25" height="63.60000000000002" fill="#E8A888"/>
<rect x="235.9" y="477.6" width="1.95" height="63.60000000000002" fill="#A020F0"/>
<rect x="237.5" y="477.6" width="10.15" height="63.60000000000002" fill="#191970"/>
<rect x="247.3" y="477.6" width="1.75" height="63.60000000000002" fill="#E0A090"/>
<rect x="248.7" y="477.6" width="4.65" height="63.60000000000002" fill="#40E0D0"/>
<rect x="253" y="477.6" width="2.05" height="63.60000000000002" fill="#FA8072"/>
<rect x="254.7" y="477.6" width="1.95" height="63.60000000000002" fill="#A52A2A"/>
<rect x="256.3" y="477.6" width="3.05" height="63.60000000000002" fill="#FF00FF"/>
<rect x="259" y="477.6" width="1.95" height="63.60000000000002" fill="#A52A2A"/>
<rect x="260.6" y="477.6" width="25.35" height="63.60000000000002" fill="#A020F0"/>
<rect x="285.6" y="477.6" width="2.55" height="63.60000000000002" fill="#FF00FF"/>
<rect x="287.8" y="477.6" width="3.05" height="63.60000000000002" fill="#D3D3D3"/>
<rect x="290.5" y="477.6" width="5.25" height="63.60000000000002" fill="#FF00FF"/>
<rect x="295.4" y="477.6" width="4.65" height="63.60000000000002" fill="#A52A2A"/>
<rect x="299.7" y="477.6" width="5.25" height="63.60000000000002" fill="#FF00FF"/>
<rect x="304.6" y="477.6" width="1.95" height="63.60000000000002" fill="#A52A2A"/>
<rect x="306.2" y="477.6" width="2.55" height="63.60000000000002" fill="#FF00FF"/>
<rect x="308.4" y="477.6" width="4.65" height="63.60000000000002" fill="#A52A2A"/>
<rect x="312.7" y="477.6" width="5.75" height="63.60000000000002" fill="#E010B8"/>
<rect x="318.1" y="477.6" width="30.75" height="63.60000000000002" fill="#A52A2A"/>
<rect x="348.5" y="477.6" width="24.35" height="63.60000000000002" fill="#FF00FF"/>
<rect x="372.5" y="477.6" width="1.65" height="63.60000000000002" fill="#FA8072"/>
<rect x="373.8" y="477.6" width="2.55" height="63.60000000000002" fill="#A52A2A"/>
<rect x="376" y="477.6" width="6.85" height="63.60000000000002" fill="#FA8072"/>
<rect x="382.5" y="477.6" width="1.95" height="63.60000000000002" fill="#A0A0FF"/>
<rect x="384.1" y="477.6" width="49.25" height="63.60000000000002" fill="#FF0000"/>
<rect x="433" y="477.6" width="2.55" height="63.60000000000002" fill="#006400"/>
<rect x="435.2" y="477.6" width="2.45" height="63.60000000000002" fill="#D3D3D3"/>
<rect x="437.3" y="477.6" width="2.55" height="63.60000000000002" fill="#00FF00"/>
<rect x="439.5" y="477.6" width="3.05" height="63.60000000000002" fill="#E8E880"/>
<rect x="442.2" y="477.6" width="3.05" height="63.60000000000002" fill="#90EE90"/>
<rect x="444.9" y="477.6" width="4.15" height="63.60000000000002" fill="#00FF00"/>
<rect x="448.7" y="477.6" width="4.65" height="63.60000000000002" fill="#FFC0CB"/>
<rect x="453" y="477.6" width="40.55" height="63.60000000000002" fill="#000000"/>
<rect x="493.2" y="477.6" width="15.25" height="63.60000000000002" fill="#00FFFF"/>
<rect x="508.1" y="477.6" width="4.15" height="63.60000000000002" fill="#00FF00"/>
<rect x="511.9" y="477.6" width="2.55" height="63.60000000000002" fill="#FFC0CB"/>
<rect x="514.1" y="477.6" width="4.75" height="63.60000000000002" fill="#00FF00"/>
<rect x="518.5" y="477.6" width="26.35" height="63.60000000000002" fill="#FFC0CB"/>
<rect x="544.5" y="477.6" width="3.05" height="63.60000000000002" fill="#00FF00"/>
<rect x="547.2" y="477.6" width="9.55" height="63.60000000000002" fill="#ADFF2F"/>
<rect x="556.4" y="477.6" width="31.35" height="63.60000000000002" fill="#00FF00"/>
<rect x="587.4" y="477.6" width="60.85" height="63.60000000000002" fill="#40E0D0"/>
<rect x="647.9" y="477.6" width="3.05" height="63.60000000000002" fill="#FFFF00"/>
<rect x="650.6" y="477.6" width="3.05" height="63.60000000000002" fill="#F0308C"/>
<rect x="653.3" y="477.6" width="4.75" height="63.60000000000002" fill="#FFFF00"/>
<rect x="657.7" y="477.6" width="2.45" height="63.60000000000002" fill="#30E890"/>
<rect x="659.8" y="477.6" width="3.15" height="63.60000000000002" fill="#FFFF00"/>
<rect x="662.6" y="477.6" width="2.45" height="63.60000000000002" fill="#3030C0"/>
<rect x="664.7" y="477.6" width="2.55" height="63.60000000000002" fill="#FFFF00"/>
<rect x="666.9" y="477.6" width="2.55" height="63.60000000000002" fill="#ADFF2F"/>
<rect x="669.1" y="477.6" width="2.45" height="63.60000000000002" fill="#FFFF00"/>
<rect x="671.2" y="477.6" width="7.45" height="63.60000000000002" fill="#FA8072"/>
<rect x="678.3" y="477.6" width="34.55" height="63.60000000000002" fill="#FFFF00"/>
<rect x="712.5" y="477.6" width="3.05" height="63.60000000000002" fill="#ADFF2F"/>
<rect x="715.2" y="477.6" width="4.15" height="63.60000000000002" fill="#6A5ACD"/>
<rect x="719" y="477.6" width="4.65" height="63.60000000000002" fill="#000080"/>
<rect x="723.3" y="477.6" width="3.05" height="63.60000000000002" fill="#D0A0B0"/>
<rect x="726" y="477.6" width="2.55" height="63.60000000000002" fill="#000080"/>
<rect x="728.2" y="477.6" width="3.05" height="63.60000000000002" fill="#30E890"/>
<rect x="730.9" y="477.6" width="4.15" height="63.60000000000002" fill="#0000FF"/>
<rect x="734.7" y="477.6" width="2.15" height="63.60000000000002" fill="#D2B48C"/>
<rect x="736.5" y="477.6" width="2.35" height="63.60000000000002" fill="#4060C0"/>
<rect x="738.5" y="477.6" width="14.15" height="63.60000000000002" fill="#D2B48C"/>
<rect x="752.3" y="477.6" width="47.75" height="63.60000000000002" fill="#0000FF"/>
<rect x="799.7" y="477.6" width="2.65" height="63.60000000000002" fill="#ADFF2F"/>
<rect x="117.6" y="541.2" width="22.05" height="63.0" fill="#BEBEBE"/>
<rect x="139.3" y="541.2" width="2.55" height="63.0" fill="#0000FF"/>
<rect x="141.5" y="541.2" width="11.15" height="63.0" fill="#BEBEBE"/>
<rect x="152.3" y="541.2" width="2.55" height="63.0" fill="#A52A2A"/>
<rect x="154.5" y="541.2" width="11.15" height="63.0" fill="#BEBEBE"/>
<rect x="165.3" y="541.2" width="3.65" height="63.0" fill="#EE5040"/>
<rect x="168.6" y="541.2" width="2.15" height="63.0" fill="#BEBEBE"/>
<rect x="170.4" y="541.2" width="2.75" height="63.0" fill="#702020"/>
<rect x="172.8" y="541.2" width="2.65" height="63.0" fill="#6020E0"/>
<rect x="175.1" y="541.2" width="2.55" height="63.0" fill="#000000"/>
<rect x="177.3" y="541.2" width="2.65" height="63.0" fill="#FF0000"/>
<rect x="179.6" y="541.2" width="2.55" height="63.0" fill="#000000"/>
<rect x="181.8" y="541.2" width="2.55" height="63.0" fill="#8B2020"/>
<rect x="184" y="541.2" width="2.55" height="63.0" fill="#A52A2A"/>
<rect x="186.2" y="541.2" width="2.55" height="63.0" fill="#FA8072"/>
<rect x="188.4" y="541.2" width="2.55" height="63.0" fill="#BEBEBE"/>
<rect x="190.6" y="541.2" width="1.95" height="63.0" fill="#404860"/>
<rect x="192.2" y="541.2" width="11.45" height="63.0" fill="#ADFF2F"/>
<rect x="203.3" y="541.2" width="2.55" height="63.0" fill="#FFFF00"/>
<rect x="205.5" y="541.2" width="2.55" height="63.0" fill="#000000"/>
<rect x="207.7" y="541.2" width="4.25" height="63.0" fill="#A52A2A"/>
<rect x="211.6" y="541.2" width="4.15" height="63.0" fill="#FFD700"/>
<rect x="215.4" y="541.2" width="3.05" height="63.0" fill="#C040E0"/>
<rect x="218.1" y="541.2" width="3.45" height="63.0" fill="#C02040"/>
<rect x="221.2" y="541.2" width="4.15" height="63.0" fill="#FA8072"/>
<rect x="225" y="541.2" width="4.75" height="63.0" fill="#C8B8A8"/>
<rect x="229.4" y="541.2" width="1.95" height="63.0" fill="#0000FF"/>
<rect x="231" y="541.2" width="3.65" height="63.0" fill="#E0C070"/>
<rect x="234.3" y="541.2" width="2.85" height="63.0" fill="#504030"/>
<rect x="236.8" y="541.2" width="10.85" height="63.0" fill="#191970"/>
<rect x="247.3" y="541.2" width="7.75" height="63.0" fill="#E0A880"/>
<rect x="254.7" y="541.2" width="5.65" height="63.0" fill="#A52A2A"/>
<rect x="260" y="541.2" width="25.95" height="63.0" fill="#A020F0"/>
<rect x="285.6" y="541.2" width="2.55" height="63.0" fill="#A52A2A"/>
<rect x="287.8" y="541.2" width="3.55" height="63.0" fill="#D3D3D3"/>
<rect x="291" y="541.2" width="81.25" height="63.0" fill="#A52A2A"/>
<rect x="371.9" y="541.2" width="2.45" height="63.0" fill="#FA8072"/>
<rect x="374" y="541.2" width="2.05" height="63.0" fill="#A52A2A"/>
<rect x="375.7" y="541.2" width="6.65" height="63.0" fill="#FA8072"/>
<rect x="382" y="541.2" width="2.35" height="63.0" fill="#00008B"/>
<rect x="384" y="541.2" width="49.85" height="63.0" fill="#FF0000"/>
<rect x="433.5" y="541.2" width="1.85" height="63.0" fill="#000000"/>
<rect x="435" y="541.2" width="3.75" height="63.0" fill="#D3D3D3"/>
<rect x="438.4" y="541.2" width="2.55" height="63.0" fill="#000000"/>
<rect x="440.6" y="541.2" width="1.95" height="63.0" fill="#ADFF2F"/>
<rect x="442.2" y="541.2" width="104.85" height="63.0" fill="#000000"/>
<rect x="546.7" y="541.2" width="10.65" height="63.0" fill="#ADFF2F"/>
<rect x="557" y="541.2" width="30.15" height="63.0" fill="#000000"/>
<rect x="586.8" y="541.2" width="61.45" height="63.0" fill="#D2B48C"/>
<rect x="647.9" y="541.2" width="3.05" height="63.0" fill="#FFFF00"/>
<rect x="650.6" y="541.2" width="3.05" height="63.0" fill="#D06030"/>
<rect x="653.3" y="541.2" width="4.75" height="63.0" fill="#FFFF00"/>
<rect x="657.7" y="541.2" width="1.95" height="63.0" fill="#000000"/>
<rect x="659.3" y="541.2" width="4.15" height="63.0" fill="#ADFF2F"/>
<rect x="663.1" y="541.2" width="1.95" height="63.0" fill="#0000FF"/>
<rect x="664.7" y="541.2" width="6.35" height="63.0" fill="#FFFF00"/>
<rect x="670.7" y="541.2" width="7.95" height="63.0" fill="#FA8072"/>
<rect x="678.3" y="541.2" width="35.05" height="63.0" fill="#FFFF00"/>
<rect x="713" y="541.2" width="1.45" height="63.0" fill="#000000"/>
<rect x="714.1" y="541.2" width="5.25" height="63.0" fill="#6A5ACD"/>
<rect x="719" y="541.2" width="4.65" height="63.0" fill="#000080"/>
<rect x="723.3" y="541.2" width="3.05" height="63.0" fill="#D2B48C"/>
<rect x="726" y="541.2" width="4.15" height="63.0" fill="#101040"/>
<rect x="729.8" y="541.2" width="3.05" height="63.0" fill="#ADFF2F"/>
<rect x="732.5" y="541.2" width="2.55" height="63.0" fill="#0000FF"/>
<rect x="734.7" y="541.2" width="2.15" height="63.0" fill="#D2B48C"/>
<rect x="736.5" y="541.2" width="2.35" height="63.0" fill="#0000FF"/>
<rect x="738.5" y="541.2" width="14.15" height="63.0" fill="#D2B48C"/>
<rect x="752.3" y="541.2" width="48.05" height="63.0" fill="#0000FF"/>
<rect x="800" y="541.2" width="2.35" height="63.0" fill="#FFFF00"/>
<g stroke="#333" stroke-width="1.4">
<line x1="117.6" y1="477.8" x2="802" y2="477.8"/>
<line x1="117.6" y1="541.3" x2="802" y2="541.3"/>
<line x1="117.6" y1="604" x2="802" y2="604"/>
</g>
<text x="111.5" y="515" text-anchor="end" font-family="'Liberation Sans', sans-serif" font-size="13.1" class="h" fill="#000">Dynamic Tree Cut</text>
<text x="111.5" y="578.6" text-anchor="end" font-family="'Liberation Sans', sans-serif" font-size="13.1" class="h" fill="#000">Merged dynamic</text>
<text x="1255.3" y="17.6" text-anchor="middle" font-family="'Liberation Sans', sans-serif" font-weight="700" font-size="18.3" fill="#000">Module−trait relationships</text>
<rect x="968.6" y="39.30" width="27" height="56.40" fill="#A52A2A"/>
<rect x="1001" y="39.30" width="230.50" height="56.40" fill="#FFE2DB" shape-rendering="crispEdges"/>
<rect x="1231.2" y="39.30" width="231.80" height="56.40" fill="#DDEFFF" shape-rendering="crispEdges"/>
<text x="964" y="72.0" text-anchor="end" font-family="'Liberation Sans', sans-serif" font-size="15.6" class="h" fill="#000">MEbrown</text>
<text x="1116.1" y="66.1" text-anchor="middle" font-family="'Liberation Sans', sans-serif" font-size="7.8" class="h h2" fill="#000">0.13</text>
<text x="1116.1" y="74.9" text-anchor="middle" font-family="'Liberation Sans', sans-serif" font-size="7.8" class="h h2" fill="#000">(0.2)</text>
<text x="1347.1" y="66.1" text-anchor="middle" font-family="'Liberation Sans', sans-serif" font-size="7.8" class="h h2" fill="#000">−0.13</text>
<text x="1347.1" y="74.9" text-anchor="middle" font-family="'Liberation Sans', sans-serif" font-size="7.8" class="h h2" fill="#000">(0.2)</text>
<rect x="968.6" y="95.30" width="27" height="54.70" fill="#FF0000"/>
<rect x="1001" y="95.30" width="230.50" height="54.70" fill="#FFB19E" shape-rendering="crispEdges"/>
<rect x="1231.2" y="95.30" width="231.80" height="54.70" fill="#A3D3FF" shape-rendering="crispEdges"/>
<text x="964" y="127.1" text-anchor="end" font-family="'Liberation Sans', sans-serif" font-size="15.6" class="h" fill="#000">MEred</text>
<text x="1116.1" y="121.2" text-anchor="middle" font-family="'Liberation Sans', sans-serif" font-size="7.8" class="h h2" fill="#000">0.39</text>
<text x="1116.1" y="130.0" text-anchor="middle" font-family="'Liberation Sans', sans-serif" font-size="7.8" class="h h2" fill="#000">(1e−04)</text>
<text x="1347.1" y="121.2" text-anchor="middle" font-family="'Liberation Sans', sans-serif" font-size="7.8" class="h h2" fill="#000">−0.39</text>
<text x="1347.1" y="130.0" text-anchor="middle" font-family="'Liberation Sans', sans-serif" font-size="7.8" class="h h2" fill="#000">(1e−04)</text>
<rect x="968.6" y="149.60" width="27" height="55.10" fill="#A020F0"/>
<rect x="1001" y="149.60" width="230.50" height="55.10" fill="#FFA18A" shape-rendering="crispEdges"/>
<rect x="1231.2" y="149.60" width="231.80" height="55.10" fill="#90CAFF" shape-rendering="crispEdges"/>
<text x="964" y="181.6" text-anchor="end" font-family="'Liberation Sans', sans-serif" font-size="15.6" class="h" fill="#000">MEpurple</text>
<text x="1116.1" y="175.8" text-anchor="middle" font-family="'Liberation Sans', sans-serif" font-size="7.8" class="h h2" fill="#000">0.46</text>
<text x="1116.1" y="184.5" text-anchor="middle" font-family="'Liberation Sans', sans-serif" font-size="7.8" class="h h2" fill="#000">(5e−06)</text>
<text x="1347.1" y="175.8" text-anchor="middle" font-family="'Liberation Sans', sans-serif" font-size="7.8" class="h h2" fill="#000">−0.46</text>
<text x="1347.1" y="184.5" text-anchor="middle" font-family="'Liberation Sans', sans-serif" font-size="7.8" class="h h2" fill="#000">(5e−06)</text>
<rect x="968.6" y="204.30" width="27" height="55.80" fill="#FA8072"/>
<rect x="1001" y="204.30" width="230.50" height="55.80" fill="#FF9980" shape-rendering="crispEdges"/>
<rect x="1231.2" y="204.30" width="231.80" height="55.80" fill="#86C6FF" shape-rendering="crispEdges"/>
<text x="964" y="236.7" text-anchor="end" font-family="'Liberation Sans', sans-serif" font-size="15.6" class="h" fill="#000">MEsalmon</text>
<text x="1116.1" y="230.8" text-anchor="middle" font-family="'Liberation Sans', sans-serif" font-size="7.8" class="h h2" fill="#000">0.49</text>
<text x="1116.1" y="239.6" text-anchor="middle" font-family="'Liberation Sans', sans-serif" font-size="7.8" class="h h2" fill="#000">(1e−06)</text>
<text x="1347.1" y="230.8" text-anchor="middle" font-family="'Liberation Sans', sans-serif" font-size="7.8" class="h h2" fill="#000">−0.49</text>
<text x="1347.1" y="239.6" text-anchor="middle" font-family="'Liberation Sans', sans-serif" font-size="7.8" class="h h2" fill="#000">(1e−06)</text>
<rect x="968.6" y="259.70" width="27" height="55.50" fill="#191970"/>
<rect x="1001" y="259.70" width="230.50" height="55.50" fill="#C0E1FF" shape-rendering="crispEdges"/>
<rect x="1231.2" y="259.70" width="231.80" height="55.50" fill="#FFCABD" shape-rendering="crispEdges"/>
<text x="964" y="291.9" text-anchor="end" font-family="'Liberation Sans', sans-serif" font-size="15.6" class="h" fill="#000">MEmidnightblue</text>
<text x="1116.1" y="286.1" text-anchor="middle" font-family="'Liberation Sans', sans-serif" font-size="7.8" class="h h2" fill="#000">−0.27</text>
<text x="1116.1" y="294.9" text-anchor="middle" font-family="'Liberation Sans', sans-serif" font-size="7.8" class="h h2" fill="#000">(0.01)</text>
<text x="1347.1" y="286.1" text-anchor="middle" font-family="'Liberation Sans', sans-serif" font-size="7.8" class="h h2" fill="#000">0.27</text>
<text x="1347.1" y="294.9" text-anchor="middle" font-family="'Liberation Sans', sans-serif" font-size="7.8" class="h h2" fill="#000">(0.01)</text>
<rect x="968.6" y="314.80" width="27" height="55.70" fill="#000000"/>
<rect x="1001" y="314.80" width="230.50" height="55.70" fill="#DDEFFF" shape-rendering="crispEdges"/>
<rect x="1231.2" y="314.80" width="231.80" height="55.70" fill="#FFE2DB" shape-rendering="crispEdges"/>
<text x="964" y="347.2" text-anchor="end" font-family="'Liberation Sans', sans-serif" font-size="15.6" class="h" fill="#000">MEblack</text>
<text x="1116.1" y="341.3" text-anchor="middle" font-family="'Liberation Sans', sans-serif" font-size="7.8" class="h h2" fill="#000">−0.15</text>
<text x="1116.1" y="350.1" text-anchor="middle" font-family="'Liberation Sans', sans-serif" font-size="7.8" class="h h2" fill="#000">(0.2)</text>
<text x="1347.1" y="341.3" text-anchor="middle" font-family="'Liberation Sans', sans-serif" font-size="7.8" class="h h2" fill="#000">0.15</text>
<text x="1347.1" y="350.1" text-anchor="middle" font-family="'Liberation Sans', sans-serif" font-size="7.8" class="h h2" fill="#000">(0.2)</text>
<rect x="968.6" y="370.10" width="27" height="55.70" fill="#0000FF"/>
<rect x="1001" y="370.10" width="230.50" height="55.70" fill="#CAE6FF" shape-rendering="crispEdges"/>
<rect x="1231.2" y="370.10" width="231.80" height="55.70" fill="#FFD2C7" shape-rendering="crispEdges"/>
<text x="964" y="402.4" text-anchor="end" font-family="'Liberation Sans', sans-serif" font-size="15.6" class="h" fill="#000">MEblue</text>
<text x="1116.1" y="396.6" text-anchor="middle" font-family="'Liberation Sans', sans-serif" font-size="7.8" class="h h2" fill="#000">−0.21</text>
<text x="1116.1" y="405.4" text-anchor="middle" font-family="'Liberation Sans', sans-serif" font-size="7.8" class="h h2" fill="#000">(0.05)</text>
<text x="1347.1" y="396.6" text-anchor="middle" font-family="'Liberation Sans', sans-serif" font-size="7.8" class="h h2" fill="#000">0.21</text>
<text x="1347.1" y="405.4" text-anchor="middle" font-family="'Liberation Sans', sans-serif" font-size="7.8" class="h h2" fill="#000">(0.05)</text>
<rect x="968.6" y="425.40" width="27" height="55.60" fill="#ADFF2F"/>
<rect x="1001" y="425.40" width="230.50" height="55.60" fill="#A3D3FF" shape-rendering="crispEdges"/>
<rect x="1231.2" y="425.40" width="231.80" height="55.60" fill="#FFB19E" shape-rendering="crispEdges"/>
<text x="964" y="457.7" text-anchor="end" font-family="'Liberation Sans', sans-serif" font-size="15.6" class="h" fill="#000">MEgreenyellow</text>
<text x="1116.1" y="451.8" text-anchor="middle" font-family="'Liberation Sans', sans-serif" font-size="7.8" class="h h2" fill="#000">−0.39</text>
<text x="1116.1" y="460.6" text-anchor="middle" font-family="'Liberation Sans', sans-serif" font-size="7.8" class="h h2" fill="#000">(2e−04)</text>
<text x="1347.1" y="451.8" text-anchor="middle" font-family="'Liberation Sans', sans-serif" font-size="7.8" class="h h2" fill="#000">0.39</text>
<text x="1347.1" y="460.6" text-anchor="middle" font-family="'Liberation Sans', sans-serif" font-size="7.8" class="h h2" fill="#000">(2e−04)</text>
<rect x="968.6" y="480.60" width="27" height="55.70" fill="#D2B48C"/>
<rect x="1001" y="480.60" width="230.50" height="55.70" fill="#A3D3FF" shape-rendering="crispEdges"/>
<rect x="1231.2" y="480.60" width="231.80" height="55.70" fill="#FFB19E" shape-rendering="crispEdges"/>
<text x="964" y="513.0" text-anchor="end" font-family="'Liberation Sans', sans-serif" font-size="15.6" class="h" fill="#000">MEtan</text>
<text x="1116.1" y="507.1" text-anchor="middle" font-family="'Liberation Sans', sans-serif" font-size="7.8" class="h h2" fill="#000">−0.37</text>
<text x="1116.1" y="515.9" text-anchor="middle" font-family="'Liberation Sans', sans-serif" font-size="7.8" class="h h2" fill="#000">(3e−04)</text>
<text x="1347.1" y="507.1" text-anchor="middle" font-family="'Liberation Sans', sans-serif" font-size="7.8" class="h h2" fill="#000">0.37</text>
<text x="1347.1" y="515.9" text-anchor="middle" font-family="'Liberation Sans', sans-serif" font-size="7.8" class="h h2" fill="#000">(3e−04)</text>
<rect x="968.6" y="535.90" width="27" height="55.50" fill="#FFFF00"/>
<rect x="1001" y="535.90" width="230.50" height="55.50" fill="#7CC1FF" shape-rendering="crispEdges"/>
<rect x="1231.2" y="535.90" width="231.80" height="55.50" fill="#FF9175" shape-rendering="crispEdges"/>
<text x="964" y="568.2" text-anchor="end" font-family="'Liberation Sans', sans-serif" font-size="15.6" class="h" fill="#000">MEyellow</text>
<text x="1116.1" y="562.2" text-anchor="middle" font-family="'Liberation Sans', sans-serif" font-size="7.8" class="h h2" fill="#000">−0.54</text>
<text x="1116.1" y="571.1" text-anchor="middle" font-family="'Liberation Sans', sans-serif" font-size="7.8" class="h h2" fill="#000">(4e−08)</text>
<text x="1347.1" y="562.2" text-anchor="middle" font-family="'Liberation Sans', sans-serif" font-size="7.8" class="h h2" fill="#000">0.54</text>
<text x="1347.1" y="571.1" text-anchor="middle" font-family="'Liberation Sans', sans-serif" font-size="7.8" class="h h2" fill="#000">(4e−08)</text>
<rect x="968.6" y="591.00" width="27" height="55.20" fill="#BEBEBE"/>
<rect x="1001" y="591.00" width="230.50" height="55.20" fill="#FFFFFF" shape-rendering="crispEdges"/>
<rect x="1231.2" y="591.00" width="231.80" height="55.20" fill="#FFFFFF" shape-rendering="crispEdges"/>
<text x="964" y="623.1" text-anchor="end" font-family="'Liberation Sans', sans-serif" font-size="15.6" class="h" fill="#000">MEgrey</text>
<text x="1116.1" y="617.2" text-anchor="middle" font-family="'Liberation Sans', sans-serif" font-size="7.8" class="h h2" fill="#000">−0.029</text>
<text x="1116.1" y="626.0" text-anchor="middle" font-family="'Liberation Sans', sans-serif" font-size="7.8" class="h h2" fill="#000">(0.8)</text>
<text x="1347.1" y="617.2" text-anchor="middle" font-family="'Liberation Sans', sans-serif" font-size="7.8" class="h h2" fill="#000">0.029</text>
<text x="1347.1" y="626.0" text-anchor="middle" font-family="'Liberation Sans', sans-serif" font-size="7.8" class="h h2" fill="#000">(0.8)</text>
<g stroke="#3a3f46" stroke-width="1.4" fill="none">
<polyline points="1000.5,645 1000.5,38.8 1463.3,38.8 1463.3,645"/>
</g>
<defs><linearGradient id="cb" x1="0" y1="0" x2="0" y2="1">
<stop offset="0" stop-color="#FF3300"/><stop offset="0.5" stop-color="#FFFFFF"/><stop offset="1" stop-color="#0D8CFF"/>
</linearGradient></defs>
<rect x="1472.2" y="75.3" width="11.8" height="533" fill="url(#cb)" stroke="#222" stroke-width="1"/>
<g stroke="#222" stroke-width="1.3">
<line x1="1484" y1="75.5" x2="1493.5" y2="75.5"/>
<line x1="1484" y1="208.8" x2="1493.5" y2="208.8"/>
<line x1="1484" y1="342" x2="1493.5" y2="342"/>
<line x1="1484" y1="475.3" x2="1493.5" y2="475.3"/>
<line x1="1484" y1="608.5" x2="1493.5" y2="608.5"/>
</g>
<text x="1497.5" y="80.9" font-family="'Liberation Sans', sans-serif" font-size="15" class="h" fill="#111">1</text>
<text x="1497.5" y="214.20000000000002" font-family="'Liberation Sans', sans-serif" font-size="15" class="h" fill="#111">0.5</text>
<text x="1497.5" y="347.4" font-family="'Liberation Sans', sans-serif" font-size="15" class="h" fill="#111">0</text>
<text x="1497.5" y="480.7" font-family="'Liberation Sans', sans-serif" font-size="15" class="h" fill="#111">−0.5</text>
<text x="1497.5" y="613.9" font-family="'Liberation Sans', sans-serif" font-size="15" class="h" fill="#111">−1</text>
<text transform="translate(1111.5 657.5) rotate(-45)" text-anchor="end" font-family="'Liberation Sans', sans-serif" font-size="14" class="h" fill="#000" dy="9">control</text>
<text transform="translate(1343.5 656) rotate(-45)" text-anchor="end" font-family="'Liberation Sans', sans-serif" font-size="14.5" class="h" fill="#000" dy="9">NAFLD</text>
<circle cx="386" cy="1014.5" r="235.5" fill="#FCB0A2"/>
<circle cx="675" cy="1015" r="82" fill="rgba(124,106,240,0.48)"/>
<circle cx="386" cy="1014.5" r="235.5" fill="none" stroke="#F56F5E" stroke-width="1.2" stroke-dasharray="2 1.6"/>
<circle cx="675" cy="1015" r="82" fill="none" stroke="#8C80F6" stroke-width="1.2" stroke-dasharray="2 1.6"/>
<text x="381.5" y="1020" text-anchor="middle" font-family="'Liberation Serif', serif" font-size="25.3" fill="#111" stroke="#111" stroke-width="0.5">413</text>
<text x="675.5" y="1022.5" text-anchor="middle" font-family="'Liberation Serif', serif" font-size="25.3" fill="#111" stroke="#111" stroke-width="0.5">44</text>
<text x="605.5" y="1121.6" font-family="'Liberation Serif', serif" font-size="26.2" fill="#8A80F5" stroke="#8A80F5" stroke-width="0.3">Endothelial Degs</text>
<text x="300" y="1278" font-family="'Liberation Serif', serif" font-size="26" fill="#F8705A" stroke="#F8705A" stroke-width="0.3">WGCNA_yellow</text>
<line x1="607" y1="713.5" x2="607" y2="1014" stroke="#3a3a48" stroke-width="1.4"/>
<text x="611" y="702" text-anchor="middle" font-family="'Liberation Serif', serif" font-size="23.5" fill="#111" stroke="#111" stroke-width="0.6">5</text>
<rect x="634.8" y="683" width="111.20000000000005" height="148.39999999999998" fill="#FDD795"/>
<text x="642.5" y="705.8" font-family="'Liberation Serif', serif" font-style="italic" font-size="23" fill="#111" stroke="#111" stroke-width="0.5">EGR1</text>
<text x="642.5" y="733.8" font-family="'Liberation Serif', serif" font-style="italic" font-size="23" fill="#111" stroke="#111" stroke-width="0.5">FABP1</text>
<text x="642.5" y="761.8" font-family="'Liberation Serif', serif" font-style="italic" font-size="23" fill="#111" stroke="#111" stroke-width="0.5">RPS7</text>
<text x="642.5" y="789.8" font-family="'Liberation Serif', serif" font-style="italic" font-size="23" fill="#111" stroke="#111" stroke-width="0.5">NID1</text>
<text x="642.5" y="817.8" font-family="'Liberation Serif', serif" font-style="italic" font-size="23" fill="#111" stroke="#111" stroke-width="0.5">TSC22D1</text>
<circle cx="1125" cy="1037" r="217" fill="#FCB0A2"/>
<circle cx="1390" cy="1037" r="75.5" fill="rgba(124,106,240,0.48)"/>
<circle cx="1125" cy="1037" r="217" fill="none" stroke="#F56F5E" stroke-width="1.2" stroke-dasharray="2 1.6"/>
<circle cx="1390" cy="1037" r="75.5" fill="none" stroke="#8C80F6" stroke-width="1.2" stroke-dasharray="2 1.6"/>
<text x="1121.5" y="1041.6" text-anchor="middle" font-family="'Liberation Serif', serif" font-size="24.5" fill="#111" stroke="#111" stroke-width="0.5">416</text>
<text x="1391" y="1045" text-anchor="middle" font-family="'Liberation Serif', serif" font-size="24.5" fill="#111" stroke="#111" stroke-width="0.5">71</text>
<text x="1326.5" y="1134.6" font-family="'Liberation Serif', serif" font-size="24.1" fill="#8A80F5" stroke="#8A80F5" stroke-width="0.3">Exercise Degs</text>
<text x="1045.6" y="1278.8" font-family="'Liberation Serif', serif" font-size="24" fill="#F8705A" stroke="#F8705A" stroke-width="0.3">WGCNA_yellow</text>
<line x1="1328.6" y1="760" x2="1328.6" y2="1037" stroke="#3a3a48" stroke-width="1.4"/>
<text x="1331.5" y="749.7" text-anchor="middle" font-family="'Liberation Serif', serif" font-size="23.5" fill="#111" stroke="#111" stroke-width="0.6">2</text>
<rect x="1353.8" y="731.3" width="101.60000000000014" height="63.5" fill="#FDD795"/>
<text x="1360.8" y="752.7" font-family="'Liberation Serif', serif" font-style="italic" font-size="22" fill="#111" stroke="#111" stroke-width="0.5">EGR1</text>
<text x="1360.8" y="779.1" font-family="'Liberation Serif', serif" font-style="italic" font-size="22" fill="#111" stroke="#111" stroke-width="0.5">HP</text>
</svg></body></html>
